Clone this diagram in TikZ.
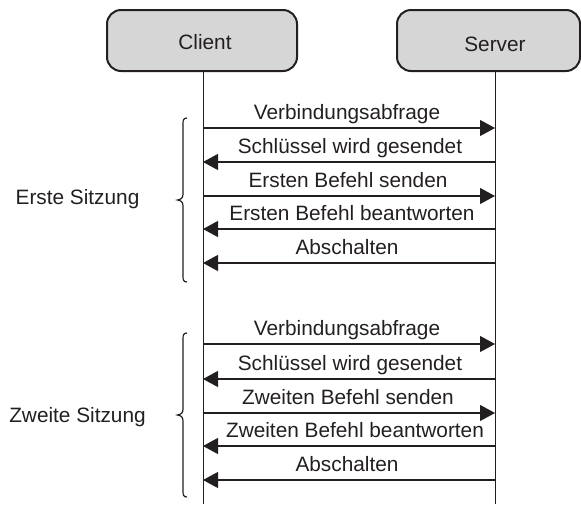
\documentclass[tikz,border=0pt]{standalone}
\usepackage{fontspec}
\setmainfont{Liberation Sans}
\usetikzlibrary{arrows.meta}
\definecolor{ink}{HTML}{231F20}
\definecolor{boxgrey}{HTML}{D6D6D6}
\begin{document}
\begin{tikzpicture}[x=1pt,y=-1pt,
  every node/.style={font=\fontsize{20.8}{24}\selectfont, text=ink, inner sep=0pt},
  actorbox/.style={draw=ink, fill=boxgrey, line width=2pt, rounded corners=14pt, minimum height=61pt},
  lifeline/.style={draw=ink, line width=1pt},
  msg/.style={draw=ink, line width=1.1pt, -{Triangle[length=15pt,width=16pt]}},
  msglabel/.style={anchor=base},
  bracepath/.style={draw=ink, line width=1.2pt}
]
\useasboundingbox (0,0) rectangle (581,504);

% actors
\node[actorbox, minimum width=190pt] (client) at (202,40.5) {};
\node (clienttxt) at (205,42) {Client};
\node[actorbox, minimum width=183pt] (server) at (488.5,40.5) {};
\node (servertxt) at (495,44) {Server};

% lifelines
\coordinate (ctop) at (203,71);
\coordinate (cbot) at (203,504);
\coordinate (stop) at (495,71);
\coordinate (sbot) at (495,504);
\draw[lifeline] (ctop) -- (cbot);
\draw[lifeline] (stop) -- (sbot);

% message anchors
\foreach \i/\y in {1/128,2/162,3/196,4/229,5/263,6/344,7/379,8/413,9/446,10/480}{
  \coordinate (c\i) at (203,\y);
  \coordinate (s\i) at (495,\y);
}

% first session
\draw[msg] (c1) -- (s1);
\node[msglabel] (l1) at (347,119) {Verbindungsabfrage};
\draw[msg] (s2) -- (c2);
\node[msglabel] (l2) at (350,153) {Schlüssel wird gesendet};
\draw[msg] (c3) -- (s3);
\node[msglabel] (l3) at (348,187) {Ersten Befehl senden};
\draw[msg] (s4) -- (c4);
\node[msglabel] (l4) at (352,220) {Ersten Befehl beantworten};
\draw[msg] (s5) -- (c5);
\node[msglabel] (l5) at (347,254) {Abschalten};

% second session
\draw[msg] (c6) -- (s6);
\node[msglabel] (l6) at (347,335) {Verbindungsabfrage};
\draw[msg] (s7) -- (c7);
\node[msglabel] (l7) at (350,370) {Schlüssel wird gesendet};
\draw[msg] (c8) -- (s8);
\node[msglabel] (l8) at (348,404) {Zweiten Befehl senden};
\draw[msg] (s9) -- (c9);
\node[msglabel] (l9) at (355,437) {Zweiten Befehl beantworten};
\draw[msg] (s10) -- (c10);
\node[msglabel] (l10) at (347,471) {Abschalten};

% braces
\draw[bracepath] (187,118) .. controls (183.5,118) and (183,120) .. (183,124) -- (183,194)
  .. controls (183,198) and (181,199.5) .. (177.5,200)
  .. controls (181,200.5) and (183,202) .. (183,206) -- (183,276)
  .. controls (183,280) and (183.5,282) .. (187,282);
\draw[bracepath] (187,333) .. controls (183.5,333) and (183,335) .. (183,339) -- (183,409)
  .. controls (183,413) and (181,414.5) .. (177.5,415)
  .. controls (181,415.5) and (183,417) .. (183,421) -- (183,491)
  .. controls (183,495) and (183.5,497) .. (187,497);

% session labels
\node (erste) at (77.5,199) {Erste Sitzung};
\node (zweite) at (77.5,417) {Zweite Sitzung};
\end{tikzpicture}
\end{document}
